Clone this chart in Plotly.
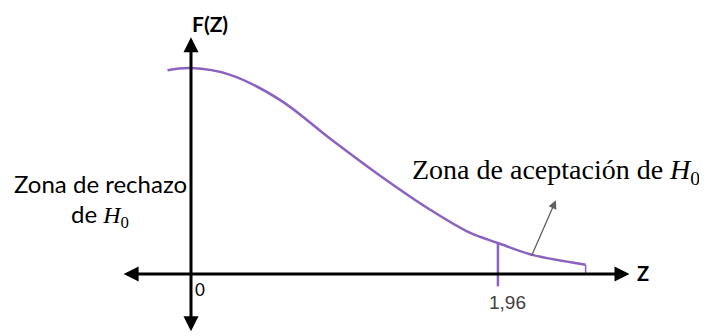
import plotly.graph_objects as go

# curve of F(Z)
z_vals = [-0.15, 0.0, 0.25, 0.57, 0.89, 1.21, 1.53, 1.78, 1.96, 2.18, 2.52]
f_vals = [0.395, 0.399, 0.386, 0.337, 0.262, 0.190, 0.124, 0.080, 0.060, 0.037, 0.018]

z_crit = 1.96
z_crit_label = "1,96"
z_end = 2.52

purple = '#8a62bf'

fig = go.Figure()

# the density curve
fig.add_trace(go.Scatter(x=z_vals, y=f_vals, mode='lines', line_shape='spline',
                         line=dict(color=purple, width=2.5), hoverinfo='skip'))
# critical value line, goes a bit under the axis
fig.add_trace(go.Scatter(x=[z_crit, z_crit], y=[0.060, -0.024], mode='lines',
                         line=dict(color=purple, width=2.5), hoverinfo='skip'))
# small tick closing the curve at the end
fig.add_trace(go.Scatter(x=[z_end, z_end], y=[0.018, 0.0], mode='lines',
                         line=dict(color=purple, width=1.5), hoverinfo='skip'))

# axes drawn as double arrows
fig.add_annotation(x=2.80, y=0, ax=-0.44, ay=0, xref='x', yref='y', axref='x', ayref='y',
                   text='', showarrow=True, arrowhead=2, arrowside='end+start',
                   arrowsize=1, arrowwidth=3, arrowcolor='black')
fig.add_annotation(x=0, y=0.459, ax=0, ay=-0.114, xref='x', yref='y', axref='x', ayref='y',
                   text='', showarrow=True, arrowhead=2, arrowside='end+start',
                   arrowsize=1, arrowwidth=3, arrowcolor='black')

# grey pointer to the acceptance zone
fig.add_annotation(x=2.33, y=0.143, ax=2.17, ay=0.032, xref='x', yref='y', axref='x', ayref='y',
                   text='', showarrow=True, arrowhead=2, arrowsize=1.3, arrowwidth=1.3,
                   arrowcolor='#606060')

sans = 'Lato'
serif = 'Liberation Serif'

fig.add_annotation(x=0.12, y=0.486, text='<b>F(Z)</b>', showarrow=False,
                   font=dict(family=sans, size=21, color='black'))
fig.add_annotation(x=2.886, y=0.002, text='<b>Z</b>', showarrow=False,
                   font=dict(family=sans, size=20, color='black'))
fig.add_annotation(x=0.06, y=-0.031, text='0', showarrow=False,
                   font=dict(family=sans, size=17, color='black'))
fig.add_annotation(x=2.02, y=-0.056, text=z_crit_label, showarrow=False,
                   font=dict(family='Liberation Sans', size=19, color='#404040'))
fig.add_annotation(x=-0.581, y=0.176, text='Zona de rechazo', showarrow=False,
                   font=dict(family=sans, size=24, color='black'))
fig.add_annotation(x=-0.581, y=0.114,
                   text='de <span style="font-family:Liberation Serif"><i>H</i><sub>0</sub></span>',
                   showarrow=False, font=dict(family=sans, size=24, color='black'))
fig.add_annotation(x=2.33, y=0.198, text='Zona de aceptación de <i>H</i><sub>0</sub>',
                   showarrow=False, font=dict(family=serif, size=28, color='black'))

# the page body adds 8px on the left and top, so the figure is 8px smaller
fig.update_layout(
    width=699, height=328,
    margin=dict(l=0, r=0, t=0, b=0),
    plot_bgcolor='white', paper_bgcolor='white',
    showlegend=False,
    xaxis=dict(range=[-1.1686, 3.295], visible=False),
    yaxis=dict(range=[-0.1202, 0.5155], visible=False),
)

fig.write_html("out.html")
